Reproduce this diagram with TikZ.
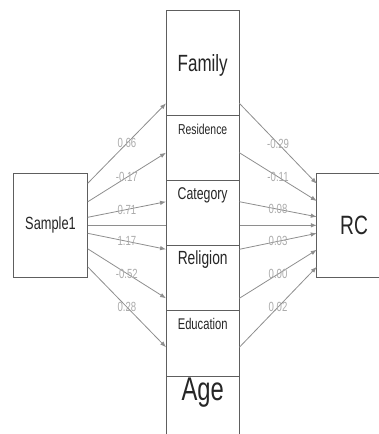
\documentclass[tikz,border=0pt]{standalone}
\usepackage{fontspec}
\setmainfont{Liberation Sans}
\usepackage{graphicx}
\usetikzlibrary{positioning,arrows.meta}
\definecolor{boxgray}{HTML}{5E5E5E}
\definecolor{edgegray}{HTML}{8E8E8E}
\definecolor{coefgray}{HTML}{ABABAB}
\newcommand{\tall}[1]{\scalebox{1}[1.38]{#1}}
\newcommand{\fsz}[1]{\fontsize{#1}{#1}\selectfont}
\tikzset{
  varbox/.style={draw=boxgray, line width=0.9pt, fill=white, inner sep=0pt, outer sep=0pt, text=black!85},
  side/.style={varbox, minimum width=74.4pt, minimum height=104.7pt},
  midvar/.style={varbox, minimum width=73.3pt, text height=19pt, text depth=46.3pt},
  effect/.style={->, draw=edgegray, line width=0.8pt},
  coef/.style={text=coefgray, font=\fsz{9.6}, inner sep=0pt}
}
\begin{document}
\begin{tikzpicture}[x=1pt, y=-1pt, >={Latex[length=6pt, width=4.5pt]}]
  \useasboundingbox (0,0) rectangle (379,434);
  \clip (0,0) rectangle (379,434);
  \node[side, font=\fsz{12.8}] (s1) at (50.5,225.3) {\tall{Sample1}};
  \node[side, font=\fsz{19.2}] (rc) at (354,225.3) {\tall{RC}};
  % direct effect, runs behind the mediators
  \draw[effect] (s1) -- (rc);
  % mediator column
  \node[varbox, minimum width=73.3pt, text height=61pt, text depth=43.3pt, font=\fsz{17}, anchor=north] (fam) at (202.7,10.7) {\tall{Family}};
  \node[midvar, below=0pt of fam, font=\fsz{10.4}] (res) {\tall{Residence}};
  \node[midvar, below=0pt of res, font=\fsz{12.3}] (cat) {\tall{Category}};
  \node[midvar, below=0pt of cat, font=\fsz{13.8}] (rel) {\tall{Religion}};
  \node[midvar, below=0pt of rel, font=\fsz{11.2}] (edu) {\tall{Education}};
  \node[varbox, minimum width=73.3pt, text height=24pt, text depth=60pt, font=\fsz{23.8}, below=0pt of edu] (age) {\tall{Age}};
  % where the paths meet the column
  \foreach \n/\y in {ma/103.3, mb/152.7, mc/201.7, md/249.3, me/298.3, mf/347.3}
    \coordinate (\n) at (0,\y);
  \foreach \sy/\tgt/\ry/\cin/\cout in {%
      42/ma/41.5/0.66/-0.29,%
      23.5/mb/24.3/-0.17/-0.11,%
      8/mc/8.5/0.71/0.08,%
      -8/md/-8/1.17/0.03,%
      -23.5/me/-24.5/-0.52/0.00,%
      -41.5/mf/-41.5/0.28/0.02%
    } {
      \draw[effect] ([yshift=\sy pt]s1.east) -- node[coef] {\tall{\cin}} (fam.west |- \tgt);
      \draw[effect] (fam.east |- \tgt) -- node[coef] {\tall{\cout}} ([yshift=\ry pt]rc.west);
    }
\end{tikzpicture}
\end{document}
